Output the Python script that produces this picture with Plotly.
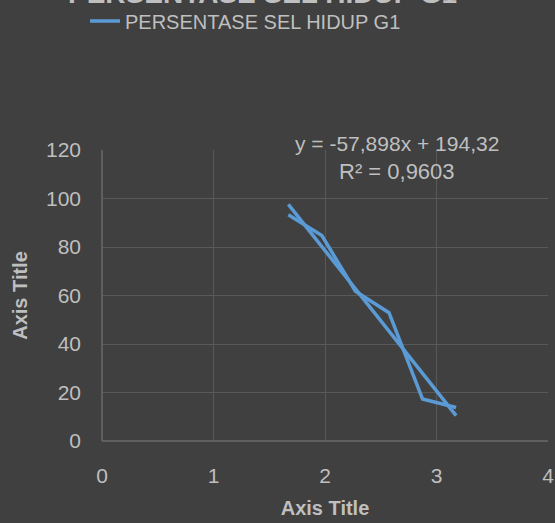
import plotly.graph_objects as go
import numpy as np

# Data
series_name = "PERSENTASE SEL HIDUP G1"
x_values = [1.671, 1.972, 2.273, 2.574, 2.875, 3.176]
y_values = [93.3, 84.7, 61.8, 52.9, 17.3, 13.8]
trend_slope = -57.898
trend_intercept = 194.32
equation_text = "y = -57,898x + 194,32"
r2_text = "R² = 0,9603"
x_ticks = [0, 1, 2, 3, 4]
y_ticks = [0, 20, 40, 60, 80, 100, 120]

BG = "#404040"
LINE = "#5b9bd5"
TXT = "#bfbfbf"
GRID = "#595959"
FONT = "Liberation Sans, Arial, sans-serif"

PL, PR, PT, PB = 102, 7, 150, 82
PW = 555 - PL - PR
PH = 523 - PT - PB

trend_x = np.array([min(x_values), max(x_values)])
trend_y = trend_slope * trend_x + trend_intercept

fig = go.Figure()
fig.add_trace(go.Scatter(
    x=x_values, y=y_values, mode="lines", name=series_name,
    line=dict(color=LINE, width=3.5),
))
fig.add_trace(go.Scatter(
    x=trend_x, y=trend_y, mode="lines", showlegend=False,
    line=dict(color=LINE, width=3.5),
))

fig.update_layout(
    width=555, height=523,
    paper_bgcolor=BG, plot_bgcolor=BG,
    margin=dict(l=PL, r=PR, t=PT, b=PB),
    font=dict(family=FONT, color=TXT, size=20),
    showlegend=True,
    legend=dict(
        x=(85 - PL) / PW, xref="paper",
        y=1 - 21 / 523, yref="container",
        xanchor="left", yanchor="middle",
        font=dict(size=20, color=TXT), bgcolor="rgba(0,0,0,0)",
    ),
    xaxis=dict(
        range=[0, 4], tickvals=x_ticks, showgrid=True, gridcolor=GRID, gridwidth=1,
        zeroline=False, showline=False, ticks="", tickfont=dict(size=21, color=TXT),
        automargin=False, ticklabelstandoff=20,
        title=dict(text="<b>Axis Title</b>", font=dict(size=20, color=TXT), standoff=14),
    ),
    yaxis=dict(
        range=[0, 120], tickvals=y_ticks, showgrid=True, gridcolor=GRID, gridwidth=1,
        zeroline=False, showline=False, ticks="", tickfont=dict(size=21, color=TXT),
        automargin=False, ticklabelstandoff=20,
        title=dict(text="<b>Axis Title</b>", font=dict(size=20, color=TXT), standoff=12),
    ),
    annotations=[
        dict(text="<b>" + series_name + "</b>", xref="paper", yref="paper",
             x=(262 - PL) / PW, y=1 + (PT - 11) / PH, xanchor="center", yanchor="bottom",
             showarrow=False, font=dict(size=28, color=TXT)),
        dict(text=equation_text, xref="paper", yref="paper", x=(397 - PL) / PW,
             y=(441 - 143) / PH,
             xanchor="center", yanchor="middle", showarrow=False,
             font=dict(size=21, color=TXT)),
        dict(text=r2_text, xref="paper", yref="paper", x=(397 - PL) / PW,
             y=(441 - 171) / PH,
             xanchor="center", yanchor="middle", showarrow=False,
             font=dict(size=22, color=TXT)),
    ],
)
fig.add_shape(type="line", xref="paper", yref="paper", x0=0, x1=0, y0=0, y1=1,
              line=dict(color="#6a6a6a", width=1.5))
fig.add_shape(type="line", xref="paper", yref="paper", x0=0, x1=1, y0=0, y1=0,
              line=dict(color="#6a6a6a", width=1.5))

fig.write_html("out.html", config={"displayModeBar": False},
               post_script="document.body.style.margin='0';")
